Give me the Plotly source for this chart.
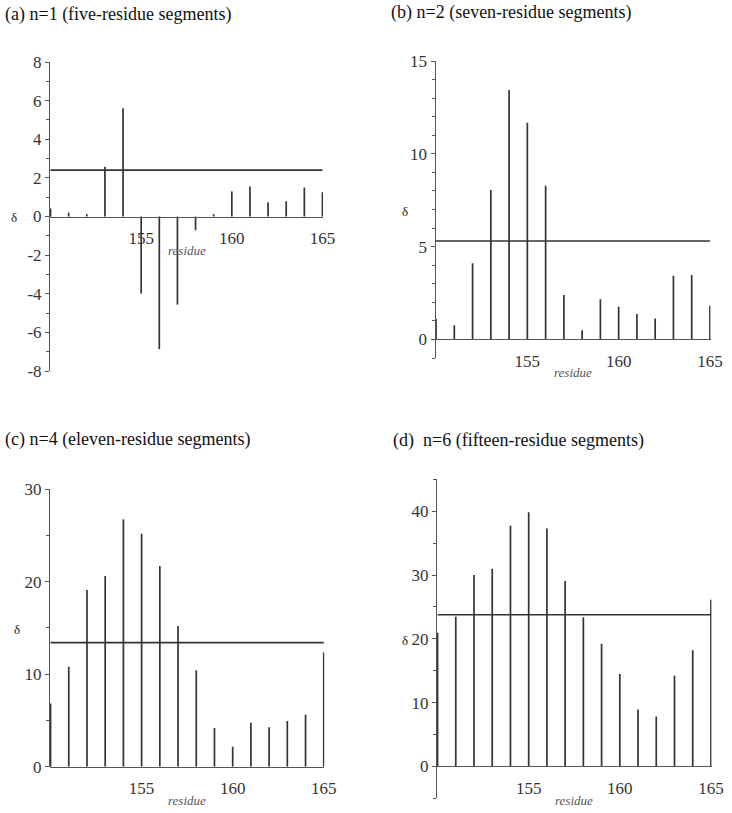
import plotly.graph_objects as go

W, H = 732, 813

residues = list(range(150, 166))

delta_n1 = [0.41, 0.2, 0.12, 2.57, 5.61, -3.99, -6.87, -4.56, -0.71, 0.12, 1.30, 1.55, 0.74, 0.79, 1.50, 1.26]
delta_n2 = [1.10, 0.77, 4.11, 8.05, 13.44, 11.68, 8.28, 2.39, 0.49, 2.16, 1.76, 1.37, 1.13, 3.43, 3.47, 1.81]
delta_n4 = [6.84, 10.80, 19.09, 20.60, 26.72, 25.17, 21.68, 15.20, 10.41, 4.18, 2.16, 4.75, 4.25, 4.93, 5.62, 12.35]
delta_n6 = [20.96, 23.47, 29.99, 30.98, 37.71, 39.84, 37.29, 29.05, 23.36, 19.24, 14.50, 8.92, 7.82, 14.19, 18.20, 26.13]

thresholds = [2.40, 5.30, 13.40, 23.78]

titles = [
    "(a) n=1 (five-residue segments)",
    "(b) n=2 (seven-residue segments)",
    "(c) n=4 (eleven-residue segments)",
    "(d)\u00a0 n=6 (fifteen-residue segments)",
]

x_tick_vals = [155, 160, 165]
x_tick_text = ["155", "160", "165"]

y_ticks_a = [-8, -6, -4, -2, 0, 2, 4, 6, 8]
y_ticks_a_text = ["-8", "-6", "-4", "-2", "0", "2", "4", "6", "8"]
y_ticks_b = [0, 5, 10, 15]
y_ticks_c = [0, 10, 20, 30]
y_ticks_d = [0, 10, 20, 30, 40]

series = [delta_n1, delta_n2, delta_n4, delta_n6]

# layout geometry (pixels): x-left, x-right, y-top, y-bottom, y-range, minor tick step
panels = [
    dict(px=(50, 323), py=(62, 371), yr=(-8, 8), tv=y_ticks_a, tt=y_ticks_a_text, minor=1,
         title_xy=(3, 15), delta_xy=(14, 218), res_y=250),
    dict(px=(435.5, 710.5), py=(61, 358), yr=(-1, 15), tv=y_ticks_b, tt=[str(v) for v in y_ticks_b], minor=1,
         title_xy=(389, 12), delta_xy=(405, 211), res_y=372),
    dict(px=(50, 324.3), py=(489, 766.7), yr=(0, 30), tv=y_ticks_c, tt=[str(v) for v in y_ticks_c], minor=5,
         title_xy=(3, 439), delta_xy=(17, 629), res_y=800),
    dict(px=(437, 711.5), py=(479.3, 798.3), yr=(-5, 45), tv=y_ticks_d, tt=[str(v) for v in y_ticks_d], minor=5,
         title_xy=(391, 440), delta_xy=(405, 640), res_y=800),
]

FONT = "Liberation Serif"
LINE = "#333333"
AXIS = "#555555"

fig = go.Figure()
annotations = []
layout = {}

for i, (p, vals, thr, title) in enumerate(zip(panels, series, thresholds, titles)):
    k = "" if i == 0 else str(i + 1)
    xa, ya = "x" + k, "y" + k
    # stems built from the data arrays (vertical segment from 0 to value for each residue)
    sx, sy = [], []
    for r, v in zip(residues, vals):
        sx += [r, r, None]
        sy += [0, v, None]
    fig.add_trace(go.Scatter(x=sx, y=sy, mode="lines", line=dict(color=LINE, width=1.7),
                             xaxis=xa, yaxis=ya, showlegend=False, cliponaxis=False))
    fig.add_trace(go.Scatter(x=[residues[0], residues[-1]], y=[thr, thr], mode="lines",
                             line=dict(color=LINE, width=1.6), xaxis=xa, yaxis=ya, showlegend=False))
    x0, x1 = p["px"]
    yt, yb = p["py"]
    ymin, ymax = p["yr"]
    ydom = [1 - yb / H, 1 - yt / H]
    zero_px = yb - (0 - ymin) / (ymax - ymin) * (yb - yt)
    layout["xaxis" + k] = dict(
        domain=[x0 / W, x1 / W], range=[149.97, 165.03], anchor="free", position=1 - zero_px / H,
        showline=True, linecolor=AXIS, linewidth=1, showgrid=False, zeroline=False, automargin=False,
        tickvals=x_tick_vals, ticktext=x_tick_text, ticks="", ticklabelstandoff=6,
        tickfont=dict(family=FONT, size=17, color="#333333"),
    )
    layout["yaxis" + k] = dict(
        domain=ydom, range=[ymin, ymax], anchor=xa, automargin=False,
        showline=True, linecolor=AXIS, linewidth=1, showgrid=False, zeroline=False,
        tickvals=p["tv"], ticktext=p["tt"], ticks="outside", ticklen=4, tickcolor=AXIS,
        minor=dict(dtick=p["minor"], tick0=0, ticks="outside", ticklen=3, tickcolor=AXIS, showgrid=False),
        tickfont=dict(family=FONT, size=17, color="#333333"),
    )
    tx, ty = p["title_xy"]
    annotations.append(dict(text=title, xref="paper", yref="paper", x=tx / W, y=1 - ty / H,
                            xanchor="left", yanchor="middle", showarrow=False,
                            font=dict(family=FONT, size=18, color="#111111")))
    dx, dy = p["delta_xy"]
    annotations.append(dict(text="δ", xref="paper", yref="paper", x=dx / W, y=1 - dy / H,
                            xanchor="center", yanchor="middle", showarrow=False,
                            font=dict(family=FONT, size=13, color="#222222")))
    annotations.append(dict(text="<i>residue</i>", xref=xa + " domain", yref="paper", x=0.5,
                            y=1 - p["res_y"] / H, xanchor="center", yanchor="middle", showarrow=False,
                            font=dict(family=FONT, size=13, color="#555555")))

fig.update_layout(
    width=W, height=H, autosize=False, margin=dict(l=0, r=0, t=0, b=0, pad=0, autoexpand=False),
    paper_bgcolor="white", plot_bgcolor="white",
    annotations=annotations, **layout,
)

post = (
    "document.documentElement.style.margin='0';"
    "document.body.style.margin='0';document.body.style.padding='0';"
    "document.body.style.overflow='hidden';"
    "var d=document.getElementById('{plot_id}');"
    "d.style.position='absolute';d.style.left='0px';d.style.top='0px';"
)

fig.write_html("out.html", post_script=post, config={"displayModeBar": False})
